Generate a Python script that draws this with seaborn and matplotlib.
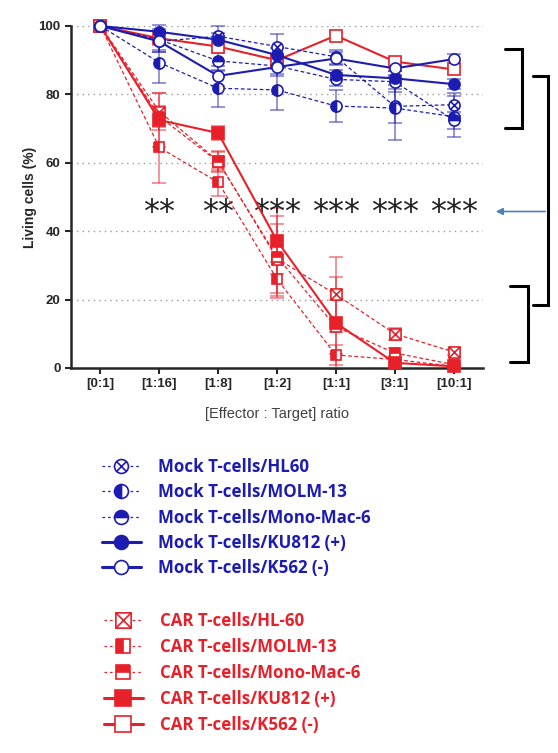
import numpy as np
import matplotlib.pyplot as plt
import seaborn as sns
from matplotlib.path import Path
from matplotlib.lines import Line2D

ratios = ["[0:1]", "[1:16]", "[1:8]", "[1:2]", "[1:1]", "[3:1]", "[10:1]"]
stars = ["", "**", "**", "***", "***", "***", "***"]

# living cells (%), mean and error bar half-length
mock_hl60 = [100, 95.5, 97.0, 94.0, 91.0, 76.5, 77.0]
mock_molm13 = [100, 89.3, 81.8, 81.3, 76.6, 76.0, 73.5]
mock_monomac6 = [100, 96.0, 89.8, 88.3, 84.4, 83.7, 72.5]
mock_ku812 = [100, 98.3, 96.0, 91.5, 85.7, 84.7, 83.0]
mock_k562 = [100, 95.5, 85.4, 88.0, 90.5, 87.6, 90.3]

mock_hl60_err = [0, 3, 3, 3.7, 2, 5, 3.4]
mock_molm13_err = [0, 6, 5.4, 6, 4.7, 9.3, 6]
mock_monomac6_err = [0, 3, 3, 3, 2, 3, 2.5]
mock_ku812_err = [0, 2, 2, 2, 1.5, 2, 1.5]
mock_k562_err = [0, 3, 3, 2, 2, 2, 1.5]

car_hl60 = [100, 75.0, 60.5, 32.0, 21.5, 10.0, 4.7]
car_molm13 = [100, 64.5, 54.3, 26.0, 3.8, 2.5, 0.5]
car_monomac6 = [100, 73.5, 60.3, 32.5, 12.0, 4.4, 1.0]
car_ku812 = [100, 72.5, 68.7, 37.2, 13.2, 1.5, 0.5]
car_k562 = [100, 96.4, 94.0, 90.0, 97.2, 89.6, 87.3]

car_hl60_err = [0, 5.4, 3, 10, 11, 1.8, 1]
car_molm13_err = [0, 10.5, 4, 5, 3, 1, 0.5]
car_monomac6_err = [0, 3, 3, 12, 8, 1.5, 0.5]
car_ku812_err = [0, 8, 2, 9.6, 13.5, 1, 0.5]
car_k562_err = [0, 2, 2, 1.5, 1, 1, 1]

BLUE = "#1c1cb0"
RED = "#e8202a"

# custom markers: circle with X, square with X
d = 0.7071
circle_x = Path.make_compound_path(
    Path.unit_circle(),
    Path([(-d, -d), (d, d), (-d, d), (d, -d)],
         [Path.MOVETO, Path.LINETO, Path.MOVETO, Path.LINETO]))
square_x = Path([(-1, -1), (1, -1), (1, 1), (-1, 1), (-1, -1),
                 (-1, -1), (1, 1), (-1, 1), (1, -1)],
                [Path.MOVETO, Path.LINETO, Path.LINETO, Path.LINETO, Path.CLOSEPOLY,
                 Path.MOVETO, Path.LINETO, Path.MOVETO, Path.LINETO])

series = [
    # label, values, err, color, marker, fillstyle, face, dashed, size
    ("CAR T-cells/HL-60", car_hl60, car_hl60_err, RED, square_x, "full", "white", True, 8),
    ("CAR T-cells/MOLM-13", car_molm13, car_molm13_err, RED, "s", "left", RED, True, 7),
    ("CAR T-cells/Mono-Mac-6", car_monomac6, car_monomac6_err, RED, "s", "top", RED, True, 7),
    ("CAR T-cells/KU812 (+)", car_ku812, car_ku812_err, RED, "s", "full", RED, False, 9),
    ("CAR T-cells/K562 (-)", car_k562, car_k562_err, RED, "s", "full", "white", False, 8),
    ("Mock T-cells/HL60", mock_hl60, mock_hl60_err, BLUE, circle_x, "full", "white", True, 8),
    ("Mock T-cells/MOLM-13", mock_molm13, mock_molm13_err, BLUE, "o", "left", BLUE, True, 8),
    ("Mock T-cells/Mono-Mac-6", mock_monomac6, mock_monomac6_err, BLUE, "o", "top", BLUE, True, 8),
    ("Mock T-cells/KU812 (+)", mock_ku812, mock_ku812_err, BLUE, "o", "full", BLUE, False, 8),
    ("Mock T-cells/K562 (-)", mock_k562, mock_k562_err, BLUE, "o", "full", "white", False, 8),
]

sns.set_style("ticks")
plt.rcParams["font.family"] = ["Liberation Sans", "DejaVu Sans"]

fig = plt.figure(figsize=(5.58, 7.53), dpi=100)
ax = fig.add_axes([71 / 558, 1 - 368 / 753, 412 / 558, 342 / 753])

x = np.arange(len(ratios))


def style_kws(color, marker, fill, face, dashed, size):
    kws = dict(color=color, marker=marker, markersize=size, fillstyle=fill,
               markerfacecolor=face, markerfacecoloralt="white",
               markeredgecolor=color, markeredgewidth=1.2)
    if dashed:
        kws.update(linestyle=(0, (3, 2)), linewidth=0.9)
    else:
        kws.update(linestyle="-", linewidth=1.5)
    return kws


handles = {}
for i, (label, vals, err, color, marker, fill, face, dashed, size) in enumerate(series):
    ax.errorbar(x, vals, yerr=err, fmt="none", ecolor=color, alpha=0.55,
                elinewidth=1.2, capsize=5, capthick=1.2, zorder=2 + i * 0.1, clip_on=False)
    kws = style_kws(color, marker, fill, face, dashed, size)
    sns.lineplot(x=x, y=vals, ax=ax, clip_on=False, zorder=3 + i * 0.1, **kws)
    leg_kws = dict(kws)
    if dashed:
        leg_kws.update(linestyle=(0, (2, 2.5)))
    else:
        leg_kws.update(linewidth=2.2)
    if color == RED:
        leg_kws.update(markersize=size + 3)
    else:
        leg_kws.update(markersize=size + 2)
    handles[label] = Line2D([], [], **leg_kws)

ax.set_xlim(-0.5, 6.5)
ax.set_ylim(0, 100)
ax.set_yticks([0, 20, 40, 60, 80, 100])
ax.set_xticks(x)
ax.set_xticklabels(ratios, fontweight="bold", fontsize=9.5)
ax.tick_params(axis="y", labelsize=9.5, width=1.5, length=4)
ax.tick_params(axis="x", width=1.5, length=4)
for t in ax.get_yticklabels():
    t.set_fontweight("bold")
for yv in [20, 40, 60, 80, 100]:
    ax.axhline(yv, color="#9a9a9a", lw=1.0, ls=(0, (1, 3)), zorder=0)
sns.despine(ax=ax)
for s in ["left", "bottom"]:
    ax.spines[s].set_linewidth(1.8)
ax.set_ylabel("Living cells (%)", fontweight="bold", fontsize=10, labelpad=1)
ax.set_xlabel("[Effector : Target] ratio", fontsize=10.5, color="#404040", labelpad=12)

for xi, s in zip(x, stars):
    if s:
        ax.text(xi, 45.5, s, ha="center", va="center", fontsize=23, color="#222222",
                family="DejaVu Sans")


def fx(px):
    return px / 558


def fy(py):
    return 1 - py / 753


def bracket(x_in, x_out, y_top, y_bot):
    fig.add_artist(Line2D([fx(x_in), fx(x_out), fx(x_out), fx(x_in)],
                          [fy(y_top), fy(y_top), fy(y_bot), fy(y_bot)],
                          color="black", lw=2.2, solid_joinstyle="miter"))


bracket(505, 522, 49, 128)
bracket(510, 528, 286, 362)
bracket(533, 548, 76, 305)
ax.annotate("", xy=(fx(493), fy(211.5)), xycoords="figure fraction",
            xytext=(fx(548), fy(211.5)), textcoords="figure fraction",
            arrowprops=dict(arrowstyle="-|>", color="#4f7fbf", lw=1.2, mutation_scale=10))

mock_labels = ["Mock T-cells/HL60", "Mock T-cells/MOLM-13", "Mock T-cells/Mono-Mac-6",
               "Mock T-cells/KU812 (+)", "Mock T-cells/K562 (-)"]
car_labels = ["CAR T-cells/HL-60", "CAR T-cells/MOLM-13", "CAR T-cells/Mono-Mac-6",
              "CAR T-cells/KU812 (+)", "CAR T-cells/K562 (-)"]

leg_font = dict(family="Open Sans", weight="bold", size=12.2)
fig.legend([handles[l] for l in mock_labels], mock_labels, loc="upper left",
           bbox_to_anchor=(fx(102), fy(458)), frameon=False, labelcolor=BLUE,
           prop=leg_font, handlelength=2.3, handletextpad=1.0,
           labelspacing=0.43, borderpad=0, borderaxespad=0)
fig.legend([handles[l] for l in car_labels], car_labels, loc="upper left",
           bbox_to_anchor=(fx(104), fy(612)), frameon=False, labelcolor=RED,
           prop=leg_font, handlelength=2.3, handletextpad=1.0,
           labelspacing=0.47, borderpad=0, borderaxespad=0)

fig.savefig("out.png", dpi=100)
